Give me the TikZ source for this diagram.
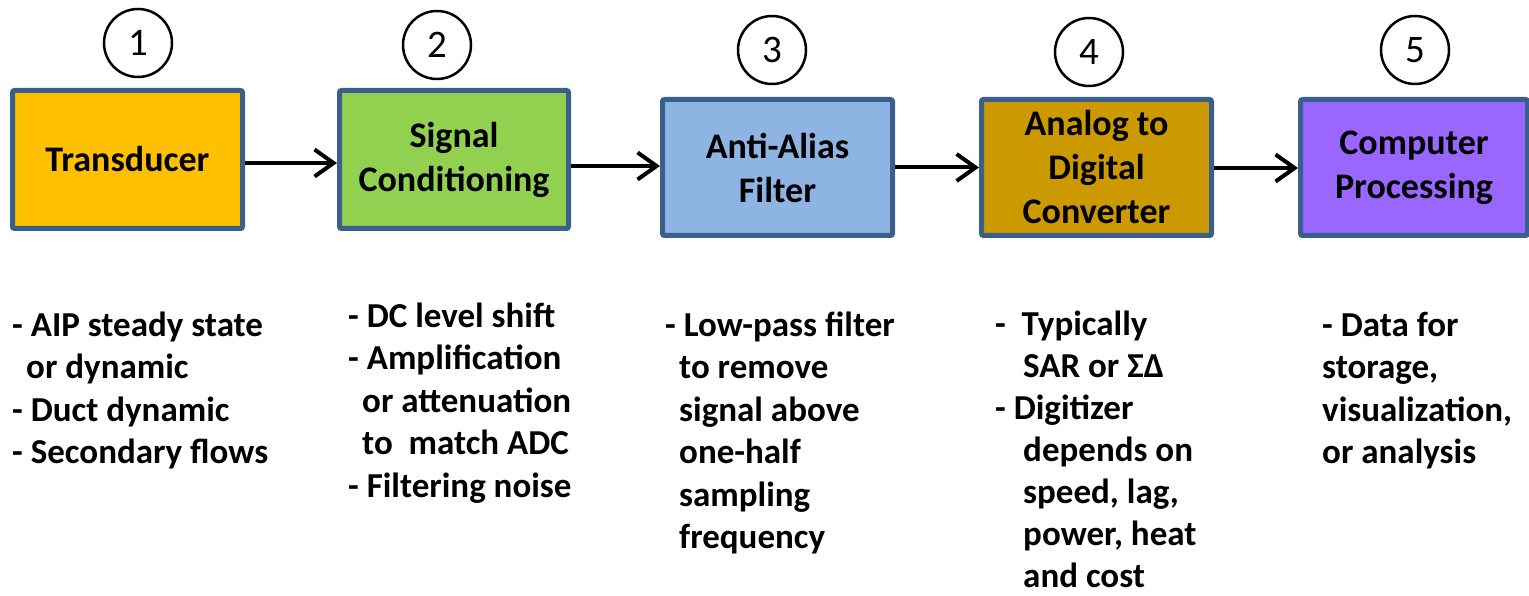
\documentclass[tikz,border=0pt]{standalone}
\usepackage{fontspec}
\setmainfont{Carlito}
\usetikzlibrary{arrows.meta}
\definecolor{bordc}{HTML}{3B5F8C}
\definecolor{c1}{HTML}{FFC000}
\definecolor{c2}{HTML}{92D050}
\definecolor{c3}{HTML}{8EB4E3}
\definecolor{c4}{HTML}{CC9900}
\definecolor{c5}{HTML}{9966FF}
\tikzset{
  stage/.style={draw=bordc, line width=5pt, rounded corners=2pt, align=center,
    inner sep=0pt, font=\fontsize{36}{44}\selectfont\bfseries},
  numcirc/.style={circle, draw=black, line width=2.5pt, minimum size=68pt, inner sep=0pt,
    font=\fontsize{39}{44}\selectfont},
  arr/.style={line width=4pt, -{Straight Barb[length=19pt, width=27pt]}},
  notes/.style={anchor=base west, inner sep=0pt}
}
\newcommand{\notebox}[2][42.5]{\parbox[t]{400pt}{\raggedright\fontsize{35}{#1}\selectfont\bfseries #2}}
\begin{document}
\begin{tikzpicture}[x=1pt, y=-1pt]
\useasboundingbox (0,0) rectangle (1529,596);
% boxes
\node[stage, fill=c1, minimum width=230pt, minimum height=138pt] (b1) at (127.5,159.5) {Transducer};
\node[stage, fill=c2, minimum width=229pt, minimum height=138pt] (b2) at (454,159.5) {Signal\\Conditioning};
\node[stage, fill=c3, minimum width=230pt, minimum height=136pt] (b3) at (777.5,167.5) {Anti-Alias\\Filter};
\node[stage, fill=c4, minimum width=230pt, minimum height=136pt] (b4) at (1096.5,167.5) {Analog to\\Digital\\Converter};
\node[stage, fill=c5, minimum width=227pt, minimum height=136pt] (b5) at (1414,167.5) {Computer\\Processing};
% numbers
\node[numcirc] (n1) at (138,43) {1};
\node[numcirc] (n2) at (437,45) {2};
\node[numcirc] (n3) at (772,50) {3};
\node[numcirc] (n4) at (1089,52) {4};
\node[numcirc] (n5) at (1415,50) {5};
% arrows
\draw[arr] ([yshift=-3.5pt]b1.east) -- ([yshift=-3.5pt]b1.east -| b2.west);
\draw[arr] ([yshift=-6.5pt]b2.east) -- ([yshift=-6.5pt]b2.east -| b3.west);
\draw[arr] (b3.east) -- (b4.west);
\draw[arr] ([yshift=-0.5pt]b4.east) -- ([yshift=-0.5pt]b4.east -| b5.west);
% notes
\node[notes] (t1) at (12,336) {\notebox{- AIP steady state\\
\hspace*{14pt}or dynamic\\
- Duct dynamic\\
- Secondary flows}};
\node[notes] (t2) at (348,327) {\notebox{- DC level shift\\
- Amplification\\
\hspace*{14pt}or attenuation\\
\hspace*{14pt}to\ \ match ADC\\
- Filtering noise}};
\node[notes] (t3) at (665,336) {\notebox{- Low-pass filter\\
\hspace*{14pt}to remove\\
\hspace*{14pt}signal above\\
\hspace*{14pt}one-half\\
\hspace*{14pt}sampling\\
\hspace*{14pt}frequency}};
\node[notes] (t4) at (995,335) {\notebox[42]{-\ \ Typically\\
\hspace*{28pt}SAR or ΣΔ\\
- Digitizer\\
\hspace*{28pt}depends on\\
\hspace*{28pt}speed, lag,\\
\hspace*{28pt}power, heat\\
\hspace*{28pt}and cost}};
\node[notes] (t5) at (1322,336) {\notebox{- Data for\\
storage,\\
visualization,\\
or analysis}};
\end{tikzpicture}
\end{document}
